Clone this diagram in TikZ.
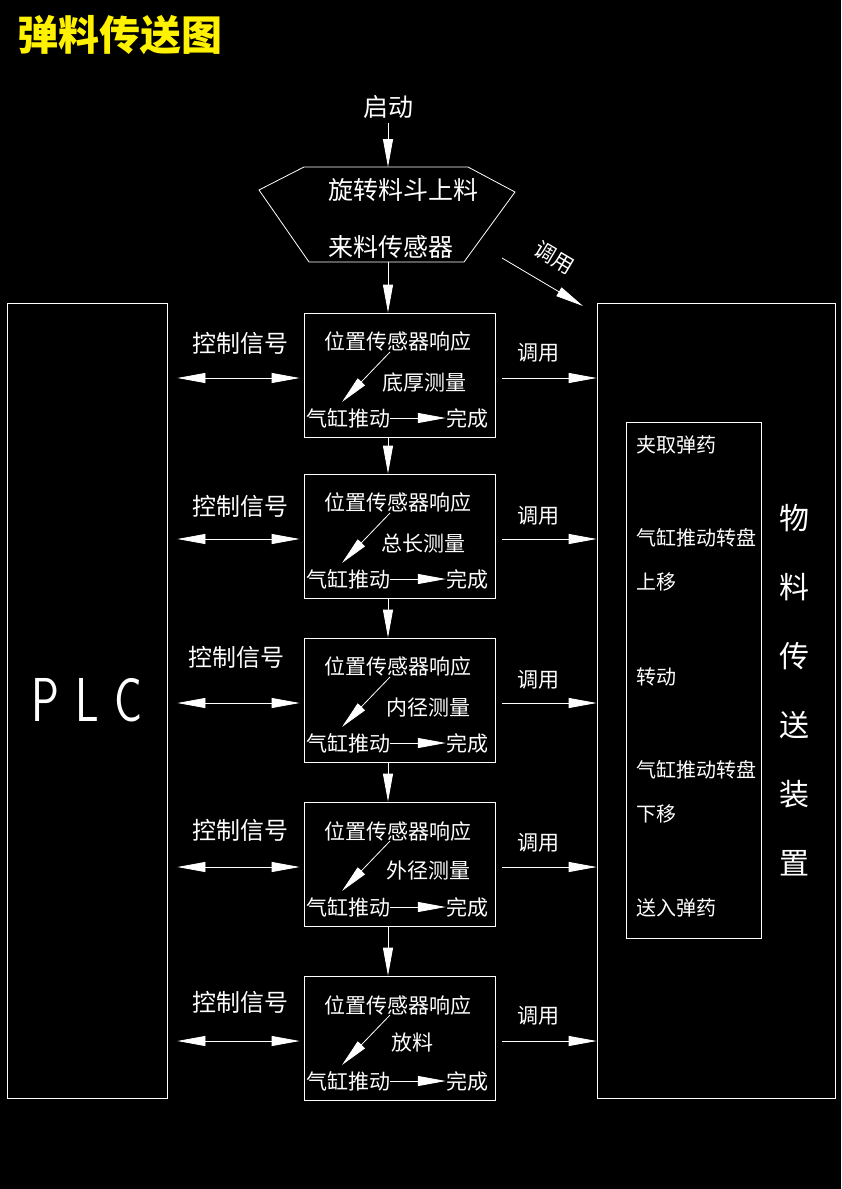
\documentclass[tikz,border=0pt]{standalone}
\usepackage{fontspec}
\newfontfamily\cjk{Noto Sans CJK SC}
\usepackage{graphicx}
\usetikzlibrary{arrows.meta}

\begin{document}
\begin{tikzpicture}[x=1pt, y=-1pt,
	every node/.append style={text=white, inner sep=0pt},
	cadarrow/.style={draw=white, line width=0.8pt, -{Triangle[length=28pt,width=10pt]}},
	dblarrow/.style={draw=white, line width=0.8pt, {Triangle[length=28pt,width=10pt]}-{Triangle[length=28pt,width=10pt]}},
	mbox/.style={draw=white, line width=0.8pt, minimum width=191pt, minimum height=124pt},
	txt/.style={font=\cjk\fontsize{21}{44}\selectfont},
	side/.style={font=\cjk\fontsize{20}{44}\selectfont, anchor=west, align=left},
	sig/.style={font=\cjk\fontsize{24}{24}\selectfont},
	big/.style={font=\cjk\fontsize{25}{25}\selectfont}]
	\fill[black] (0,0) rectangle (841,1189);
	\node[anchor=west, text=yellow, font=\cjk\bfseries\fontsize{41}{41}\selectfont] (title) at (17,35) {弹料传送图};
	% start and hopper
	\node[big] (start) at (388,107) {启动};
	\draw[white, line width=0.8pt] (304,167) -- (468,167) -- (515,192) -- (464,262) -- (309,262) -- (259,190) -- cycle;
	\coordinate (hexT) at (388,167);
	\coordinate (hexB) at (388,262);
	\node[big] (h1) at (403,190) {旋转料斗上料};
	\node[big] (h2) at (391,247) {来料传感器};
	\draw[cadarrow, shorten <=4pt] (start) -- (hexT);
	% outer boxes
	\node[draw=white, line width=0.8pt, minimum width=160pt, minimum height=795pt, font=\fontsize{62}{62}\sffamily] (plc) at (87,700.5) {\scalebox{0.75}[1]{P\hspace{21pt}L\hspace{21pt}C}};
	\node[draw=white, line width=0.8pt, minimum width=238pt, minimum height=795pt] (rbox) at (716,700.5) {};
	\node[draw=white, line width=0.8pt, minimum width=135pt, minimum height=516pt] (ibox) at (693.5,680) {};
	\node[side] (s1) at (636,445) {夹取弹药};
	\node[side] (s2) at (636,560) {气缸推动转盘\\上移};
	\node[side] (s3) at (636,677) {转动};
	\node[side] (s4) at (636,792) {气缸推动转盘\\下移};
	\node[side] (s5) at (636,908) {送入弹药};
	\node[font=\cjk\fontsize{30}{69}\selectfont, align=center] (dev) at (794,690) {物\\料\\传\\送\\装\\置};
	\coordinate (callA) at (502,258);
	\coordinate (callB) at (583,306);
	\draw[cadarrow] (callA) -- (callB) node[pos=0.48, sloped, above=17pt, txt] {调用};
	% row 1
	\node[mbox] (b1) at (399.5,375) {};
	\node[txt] (t1) at (398,342) {位置传感器响应};
	\node[txt] (m1) at (424,383) {底厚测量};
	\node[txt] (q1) at (348,418) {气缸推动};
	\node[txt] (w1) at (467,418) {完成};
	\draw[cadarrow] ([xshift=-8pt]t1.south) -- ([shift={(-6,-6)}]q1.north);
	\draw[cadarrow] (q1) -- (w1);
	\coordinate (r1) at (0,378);
	\node[sig] (c1) at (240,343) {控制信号};
	\draw[dblarrow] ([xshift=10pt]plc.east |- r1) -- ([xshift=-4pt]b1.west |- r1);
	\node[txt] (u1) at (538,353) {调用};
	\draw[cadarrow] ([xshift=7pt]b1.east |- r1) -- (rbox.west |- r1);
	\draw[cadarrow] (hexB) -- ([xshift=-11.5pt]b1.north);
	% row 2
	\node[mbox] (b2) at (399.5,536) {};
	\node[txt] (t2) at (398,503) {位置传感器响应};
	\node[txt] (m2) at (423,544) {总长测量};
	\node[txt] (q2) at (348,579) {气缸推动};
	\node[txt] (w2) at (467,579) {完成};
	\draw[cadarrow] ([xshift=-8pt]t2.south) -- ([shift={(-6,-6)}]q2.north);
	\draw[cadarrow] (q2) -- (w2);
	\coordinate (r2) at (0,539);
	\node[sig] (c2) at (240,506) {控制信号};
	\draw[dblarrow] ([xshift=10pt]plc.east |- r2) -- ([xshift=-4pt]b2.west |- r2);
	\node[txt] (u2) at (538,516) {调用};
	\draw[cadarrow] ([xshift=7pt]b2.east |- r2) -- (rbox.west |- r2);
	\draw[cadarrow] ([xshift=-11.5pt]b1.south) -- ([xshift=-11.5pt]b2.north);
	% row 3
	\node[mbox] (b3) at (399.5,700) {};
	\node[txt] (t3) at (398,667) {位置传感器响应};
	\node[txt] (m3) at (428,708) {内径测量};
	\node[txt] (q3) at (348,743) {气缸推动};
	\node[txt] (w3) at (467,743) {完成};
	\draw[cadarrow] ([xshift=-8pt]t3.south) -- ([shift={(-6,-6)}]q3.north);
	\draw[cadarrow] (q3) -- (w3);
	\coordinate (r3) at (0,703);
	\node[sig] (c3) at (236,657) {控制信号};
	\draw[dblarrow] ([xshift=10pt]plc.east |- r3) -- ([xshift=-4pt]b3.west |- r3);
	\node[txt] (u3) at (538,680) {调用};
	\draw[cadarrow] ([xshift=7pt]b3.east |- r3) -- (rbox.west |- r3);
	\draw[cadarrow] ([xshift=-11.5pt]b2.south) -- ([xshift=-11.5pt]b3.north);
	% row 4
	\node[mbox] (b4) at (399.5,864) {};
	\node[txt] (t4) at (398,831) {位置传感器响应};
	\node[txt] (m4) at (428,870) {外径测量};
	\node[txt] (q4) at (348,907) {气缸推动};
	\node[txt] (w4) at (467,907) {完成};
	\draw[cadarrow] ([xshift=-8pt]t4.south) -- ([shift={(-6,-6)}]q4.north);
	\draw[cadarrow] (q4) -- (w4);
	\coordinate (r4) at (0,867);
	\node[sig] (c4) at (240,830) {控制信号};
	\draw[dblarrow] ([xshift=10pt]plc.east |- r4) -- ([xshift=-4pt]b4.west |- r4);
	\node[txt] (u4) at (538,843) {调用};
	\draw[cadarrow] ([xshift=7pt]b4.east |- r4) -- (rbox.west |- r4);
	\draw[cadarrow] ([xshift=-11.5pt]b3.south) -- ([xshift=-11.5pt]b4.north);
	% row 5
	\node[mbox] (b5) at (399.5,1038) {};
	\node[txt] (t5) at (398,1005) {位置传感器响应};
	\node[txt] (m5) at (412,1043) {放料};
	\node[txt] (q5) at (348,1081) {气缸推动};
	\node[txt] (w5) at (467,1081) {完成};
	\draw[cadarrow] ([xshift=-8pt]t5.south) -- ([shift={(-6,-6)}]q5.north);
	\draw[cadarrow] (q5) -- (w5);
	\coordinate (r5) at (0,1041);
	\node[sig] (c5) at (240,1002) {控制信号};
	\draw[dblarrow] ([xshift=10pt]plc.east |- r5) -- ([xshift=-4pt]b5.west |- r5);
	\node[txt] (u5) at (538,1016) {调用};
	\draw[cadarrow] ([xshift=7pt]b5.east |- r5) -- (rbox.west |- r5);
	\draw[cadarrow] ([xshift=-11.5pt]b4.south) -- ([xshift=-11.5pt]b5.north);
\end{tikzpicture}
\end{document}
